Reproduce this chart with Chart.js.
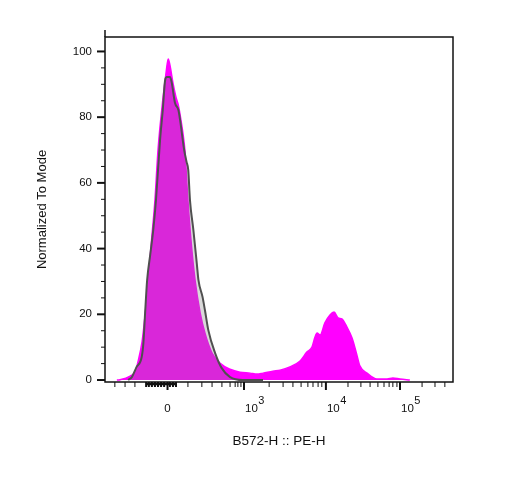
<!DOCTYPE html>
<html>
<head>
<meta charset="utf-8">
<script src="https://cdn.jsdelivr.net/npm/chart.js@4"></script>
<style>
  body { margin: 0; background: #fff; }
</style>
</head>
<body>
<canvas id="myChart" width="517" height="486"></canvas>
<script>
// x values are display channels (0-1024) of the biex axis
const sampleX = [35, 44, 74, 88, 97, 109, 118, 127, 137, 147, 156, 170, 180, 186, 191, 200, 209, 215, 221, 230, 235, 244, 253, 265, 280, 294, 315, 338, 368, 397, 427, 447, 465, 494, 515, 544, 574, 594, 609, 618, 624, 633, 647, 662, 674, 686, 697, 712, 727, 739, 750, 771, 800, 830, 847, 868, 897];
const sampleY = [0, 0.1, 1.2, 2.4, 5.5, 11.6, 19.8, 29.8, 42.6, 54.8, 70, 85.2, 93.8, 97.7, 95.9, 90.4, 86, 84, 80.7, 74.6, 70, 54.8, 42.6, 30.4, 20.4, 14.3, 8.2, 5.2, 3.3, 2.4, 2.1, 1.8, 2.1, 2.7, 3.0, 4.0, 5.8, 8.5, 10, 13.1, 14.3, 13.7, 17.4, 19.8, 20.7, 18.9, 18.6, 16.1, 12.8, 8.5, 4.3, 2.1, 0.3, 0.3, 0.6, 0.3, 0];

const controlX = [68, 79, 93, 108, 113, 118, 124, 133, 142, 150, 162, 170, 177, 182, 191, 196, 206, 216, 221, 233, 240, 245, 250, 260, 270, 275, 287, 294, 304, 324, 343, 368, 406, 465];
const controlY = [0, 0.9, 4.0, 7.0, 11.3, 20.4, 30.4, 38.1, 45.7, 54.8, 73.1, 82.2, 91.3, 92.2, 92.2, 90.7, 84.3, 82.2, 79.1, 70, 66.4, 63.9, 54.8, 45.7, 35.6, 30.4, 25.3, 21.3, 15.2, 8.2, 3.7, 0.9, 0, 0];

// tick positions (channels) and labels
const xMajorTicks = [184, 409, 650, 868];
const xTickBase = ['0', '10', '10', '10'];
const xTickExp = ['', '3', '4', '5'];
const xMinorTicks = [29, 59, 88,
  244, 285, 315, 344, 368, 383, 391, 400,
  483, 524, 553, 577, 597, 612, 627, 638,
  715, 753, 780, 803, 821, 836, 847, 859,
  933, 971, 1000];
// the crowded linear ticks round zero
const xDenseTicks = [121, 129, 138, 147, 156, 165, 174, 191, 200, 209];
const yTickValues = [0, 5, 10, 15, 20, 25, 30, 35, 40, 45, 50, 55, 60, 65, 70, 75, 80, 85, 90, 95, 100];

const FONT = "'Liberation Sans', Arial, sans-serif";

const toPoints = (xs, ys) => xs.map((x, i) => ({x: x, y: ys[i]}));

// draws frame, tick marks and the x labels with superscripts
const axisDecor = {
  id: 'axisDecor',
  afterDraw(chart) {
    const {ctx, chartArea: a, scales: {x, y}} = chart;
    ctx.save();
    ctx.strokeStyle = '#111';
    ctx.lineWidth = 1.5;
    ctx.strokeRect(a.left, a.top, a.right - a.left, a.bottom - a.top);
    ctx.beginPath();
    ctx.moveTo(a.left, a.top - 7);
    ctx.lineTo(a.left, a.top);
    ctx.stroke();

    y.ticks.forEach(t => {
      const py = y.getPixelForValue(t.value);
      const major = t.value % 20 === 0;
      ctx.lineWidth = major ? 2 : 1;
      ctx.beginPath();
      ctx.moveTo(a.left - (major ? 8 : 4), py);
      ctx.lineTo(a.left, py);
      ctx.stroke();
    });

    x.ticks.forEach(t => {
      const px = x.getPixelForValue(t.value);
      const major = xMajorTicks.includes(t.value);
      const dense = xDenseTicks.includes(t.value);
      ctx.lineWidth = major ? 2 : (dense ? 2 : 1);
      ctx.beginPath();
      ctx.moveTo(px, a.bottom);
      ctx.lineTo(px, a.bottom + (major ? 8 : 5));
      ctx.stroke();
    });
    // thick bar under the dense zero ticks
    const d0 = x.getPixelForValue(xDenseTicks[0]);
    const d1 = x.getPixelForValue(xDenseTicks[xDenseTicks.length - 1]);
    ctx.lineWidth = 2.5;
    ctx.beginPath();
    ctx.moveTo(d0, a.bottom + 2);
    ctx.lineTo(d1, a.bottom + 2);
    ctx.stroke();

    ctx.fillStyle = '#111';
    ctx.textBaseline = 'alphabetic';
    xMajorTicks.forEach((v, i) => {
      const px = x.getPixelForValue(v);
      const base = a.bottom + 30;
      ctx.font = '11.5px ' + FONT;
      if (!xTickExp[i]) {
        ctx.textAlign = 'center';
        ctx.fillText(xTickBase[i], px, base);
      } else {
        ctx.textAlign = 'left';
        ctx.fillText(xTickBase[i], px + 1, base);
        const w = ctx.measureText(xTickBase[i]).width;
        ctx.font = '11px ' + FONT;
        ctx.fillText(xTickExp[i], px + 1 + w + 0.5, base - 8);
      }
    });
    ctx.restore();
  }
};

const data = {
  datasets: [{
    label: 'Control',
    data: toPoints(controlX, controlY),
    borderColor: '#505050',
    borderWidth: 2,
    backgroundColor: 'rgba(128, 128, 128, 0.3)',
    fill: 'origin',
    order: 1
  }, {
    label: 'B572',
    data: toPoints(sampleX, sampleY),
    borderColor: 'rgb(255, 0, 255)',
    borderWidth: 1.5,
    backgroundColor: 'rgb(255, 0, 255)',
    fill: 'origin',
    order: 2
  }]
};

const config = {
  type: 'line',
  data,
  options: {
    responsive: false,
    animation: false,
    layout: {padding: {left: 0, right: 64, top: 37, bottom: 0}},
    elements: {
      point: {radius: 0},
      line: {cubicInterpolationMode: 'monotone'}
    },
    plugins: {legend: {display: false}, tooltip: {enabled: false}},
    scales: {
      x: {
        type: 'linear',
        min: 0,
        max: 1024,
        grid: {display: false, drawTicks: false},
        border: {display: false},
        ticks: {display: false, autoSkip: false},
        afterBuildTicks: s => {
          s.ticks = xMinorTicks.concat(xDenseTicks, xMajorTicks).map(v => ({value: v}));
        },
        afterFit: s => { s.height = 104; },
        title: {
          display: true,
          text: 'B572-H :: PE-H',
          color: '#111',
          font: {family: FONT, size: 13.5},
          padding: {top: 0, bottom: 36.5}
        }
      },
      y: {
        type: 'linear',
        min: -0.6,
        max: 104.4,
        grid: {display: false, drawTicks: false},
        border: {display: false},
        ticks: {
          autoSkip: false,
          padding: 13,
          color: '#111',
          font: {family: FONT, size: 11.5},
          callback: v => (v % 20 === 0 ? String(v) : '')
        },
        afterBuildTicks: s => {
          s.ticks = yTickValues.map(v => ({value: v}));
        },
        afterFit: s => { s.width = 105; },
        title: {
          display: true,
          text: 'Normalized To Mode',
          color: '#111',
          font: {family: FONT, size: 13},
          padding: {top: 34.7, bottom: 0}
        }
      }
    }
  },
  plugins: [axisDecor]
};

var myChart = new Chart(
  document.getElementById('myChart'),
  config
);
</script>
</body>
</html>
